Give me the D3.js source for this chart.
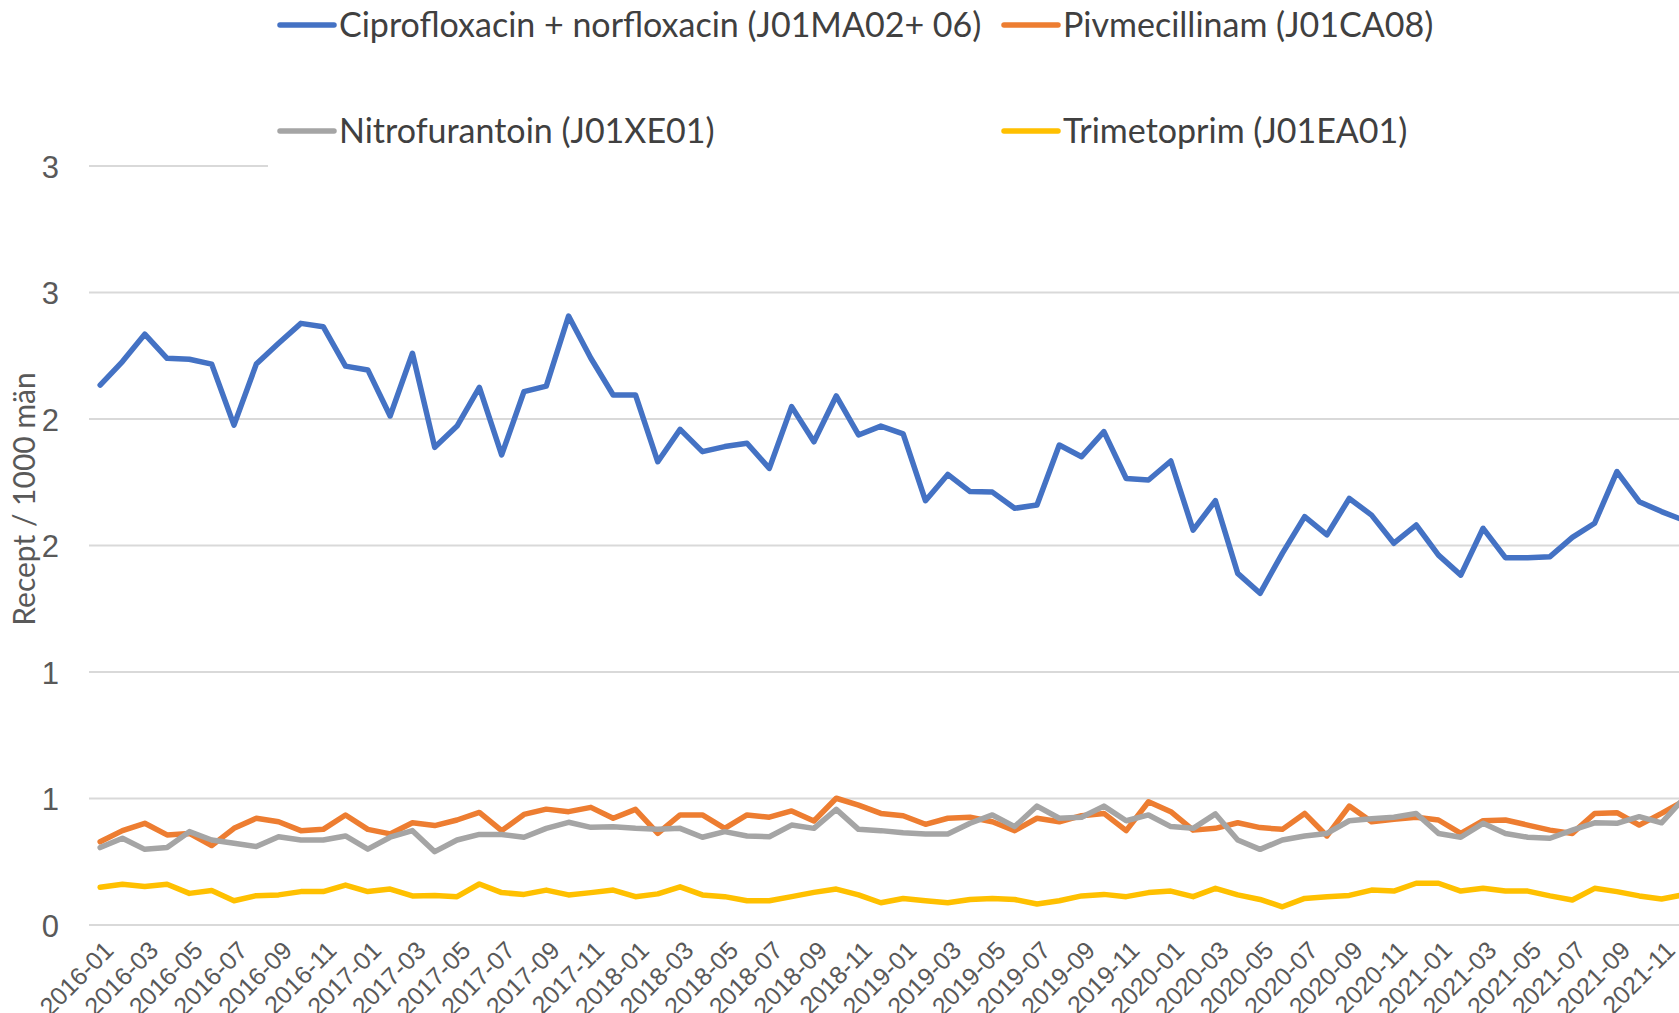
<!DOCTYPE html>
<html>
<head>
<meta charset="utf-8">
<script src="https://cdn.jsdelivr.net/npm/d3@7"></script>
<style>
  html, body { margin: 0; padding: 0; background: #fff; }
  svg { display: block; font-family: Lato, "Liberation Sans", sans-serif; }
</style>
</head>
<body>
<svg id="chart" width="1679" height="1013"></svg>
<script>
// categories: months 2016-01 .. 2021-12
const years = ["2016", "2017", "2018", "2019", "2020", "2021"];
const monthNums = ["01", "02", "03", "04", "05", "06", "07", "08", "09", "10", "11", "12"];
const months = [];
years.forEach(y => monthNums.forEach(m => months.push(y + "-" + m)));

// series values (Recept / 1000 män)
const cipro = [2.134, 2.227, 2.335, 2.240, 2.236, 2.217, 1.976, 2.217, 2.299, 2.378, 2.365, 2.209,
  2.194, 2.012, 2.260, 1.888, 1.972, 2.125, 1.858, 2.108, 2.130, 2.407, 2.240, 2.095,
  2.095, 1.831, 1.959, 1.871, 1.891, 1.904, 1.805, 2.049, 1.910, 2.091, 1.937, 1.972,
  1.941, 1.677, 1.781, 1.713, 1.711, 1.647, 1.660, 1.897, 1.851, 1.950, 1.765, 1.759,
  1.834, 1.561, 1.677, 1.390, 1.311, 1.469, 1.614, 1.542, 1.686, 1.620, 1.509, 1.581,
  1.462, 1.383, 1.568, 1.452, 1.452, 1.456, 1.532, 1.588, 1.792, 1.673, 1.634, 1.600];
const pivme = [0.329, 0.373, 0.402, 0.356, 0.362, 0.314, 0.382, 0.422, 0.408, 0.373, 0.378, 0.435,
  0.378, 0.360, 0.404, 0.393, 0.415, 0.445, 0.373, 0.437, 0.458, 0.448, 0.465, 0.422,
  0.457, 0.362, 0.435, 0.435, 0.382, 0.435, 0.426, 0.451, 0.411, 0.501, 0.474, 0.441,
  0.432, 0.398, 0.422, 0.426, 0.408, 0.373, 0.422, 0.408, 0.432, 0.441, 0.373, 0.487,
  0.448, 0.375, 0.382, 0.404, 0.385, 0.378, 0.441, 0.352, 0.470, 0.408, 0.418, 0.426,
  0.415, 0.362, 0.412, 0.415, 0.395, 0.375, 0.362, 0.441, 0.444, 0.395, 0.441, 0.490];
const nitro = [0.306, 0.343, 0.299, 0.306, 0.369, 0.336, 0.323, 0.310, 0.349, 0.336, 0.336, 0.352,
  0.300, 0.347, 0.373, 0.290, 0.336, 0.358, 0.358, 0.347, 0.382, 0.406, 0.386, 0.388,
  0.382, 0.378, 0.382, 0.347, 0.369, 0.352, 0.349, 0.395, 0.382, 0.457, 0.378, 0.373,
  0.365, 0.360, 0.360, 0.402, 0.435, 0.389, 0.470, 0.422, 0.426, 0.470, 0.412, 0.435,
  0.389, 0.382, 0.439, 0.336, 0.299, 0.336, 0.352, 0.362, 0.412, 0.420, 0.426, 0.441,
  0.362, 0.347, 0.402, 0.362, 0.347, 0.343, 0.375, 0.404, 0.402, 0.428, 0.404, 0.500];
const trime = [0.149, 0.161, 0.152, 0.161, 0.125, 0.136, 0.096, 0.116, 0.119, 0.132, 0.132, 0.158,
  0.132, 0.142, 0.115, 0.117, 0.112, 0.162, 0.128, 0.121, 0.138, 0.119, 0.128, 0.138,
  0.112, 0.123, 0.151, 0.119, 0.112, 0.096, 0.096, 0.112, 0.129, 0.142, 0.119, 0.088,
  0.105, 0.096, 0.088, 0.101, 0.105, 0.101, 0.083, 0.096, 0.115, 0.121, 0.112, 0.128,
  0.134, 0.112, 0.145, 0.119, 0.101, 0.072, 0.105, 0.112, 0.117, 0.138, 0.134, 0.165,
  0.165, 0.134, 0.145, 0.134, 0.134, 0.115, 0.099, 0.145, 0.132, 0.115, 0.103, 0.120];

const seriesNames = ["Ciprofloxacin + norfloxacin (J01MA02+ 06)", "Pivmecillinam (J01CA08)",
  "Nitrofurantoin (J01XE01)", "Trimetoprim (J01EA01)"];
const seriesColors = ["#4472C4", "#ED7D31", "#A5A5A5", "#FFC000"];
const seriesValues = [cipro, pivme, nitro, trime];

// axis ticks
const yTickValues = [0, 0.5, 1, 1.5, 2, 2.5, 3];
const yTickLabels = ["0", "1", "1", "2", "2", "3", "3"];
const xTickLabels = months.filter((d, i) => i % 2 === 0);
const yTitle = "Recept / 1000 män";

const width = 1679, height = 1013;
const plotLeft = 89, plotRight = 1695, plotTop = 166, plotBottom = 925;
const textColor = "#595959";

const svg = d3.select("#chart");

const x = d3.scaleBand().domain(months).range([plotLeft, plotRight]);
const xc = d => x(d) + x.bandwidth() / 2;
const y = d3.scaleLinear().domain([0, 3]).range([plotBottom, plotTop]);

// gridlines
svg.append("g")
  .selectAll("line")
  .data(yTickValues)
  .enter()
  .append("line")
  .attr("x1", plotLeft)
  .attr("x2", plotRight)
  .attr("y1", d => y(d))
  .attr("y2", d => y(d))
  .attr("stroke", "#D9D9D9")
  .attr("stroke-width", 2);

// y axis labels
const yAxis = d3.axisLeft(y)
  .tickValues(yTickValues)
  .tickFormat((d, i) => yTickLabels[i])
  .tickSize(0)
  .tickPadding(0);
const gy = svg.append("g")
  .attr("transform", "translate(59,0)")
  .call(yAxis);
gy.select(".domain").remove();
gy.selectAll("text")
  .attr("fill", textColor)
  .style("font-size", "31px")
  .attr("dy", "0.36em");

// x axis labels
const xAxis = d3.axisBottom(x)
  .tickValues(xTickLabels)
  .tickSize(0)
  .tickPadding(0);
const gx = svg.append("g")
  .attr("transform", "translate(0," + plotBottom + ")")
  .call(xAxis);
gx.select(".domain").remove();
gx.selectAll("text")
  .attr("fill", textColor)
  .style("font-size", "25px")
  .attr("text-anchor", "end")
  .attr("y", 0)
  .attr("dy", 0)
  .attr("transform", "translate(15,27) rotate(-45)");

// y title
svg.append("text")
  .attr("transform", "translate(35,499) rotate(-90)")
  .attr("text-anchor", "middle")
  .attr("fill", textColor)
  .style("font-size", "30px")
  .text(yTitle);

// lines
const line = d3.line()
  .x((d, i) => xc(months[i]))
  .y(d => y(d));

svg.append("g")
  .selectAll("path")
  .data(seriesValues)
  .enter()
  .append("path")
  .attr("d", d => line(d))
  .attr("fill", "none")
  .attr("stroke", (d, i) => seriesColors[i])
  .attr("stroke-width", 5.5)
  .attr("stroke-linejoin", "round")
  .attr("stroke-linecap", "round");

// legend (white box over the top gridline)
const legend = svg.append("g");
legend.append("rect")
  .attr("x", 268)
  .attr("y", 0)
  .attr("width", width - 268)
  .attr("height", 178)
  .attr("fill", "#fff");

const legendX = [280, 1004];
const legendY = [25, 131];
const items = legend.selectAll("g.item")
  .data(seriesNames)
  .enter()
  .append("g")
  .attr("class", "item")
  .attr("transform", (d, i) => "translate(" + legendX[i % 2] + "," + legendY[Math.floor(i / 2)] + ")");
items.append("line")
  .attr("x1", 0)
  .attr("x2", 54)
  .attr("stroke", (d, i) => seriesColors[i])
  .attr("stroke-width", 5.5)
  .attr("stroke-linecap", "round");
items.append("text")
  .attr("x", 59)
  .attr("dy", "0.36em")
  .attr("fill", "#404040")
  .style("font-size", "34px")
  .text(d => d);
</script>
</body>
</html>
